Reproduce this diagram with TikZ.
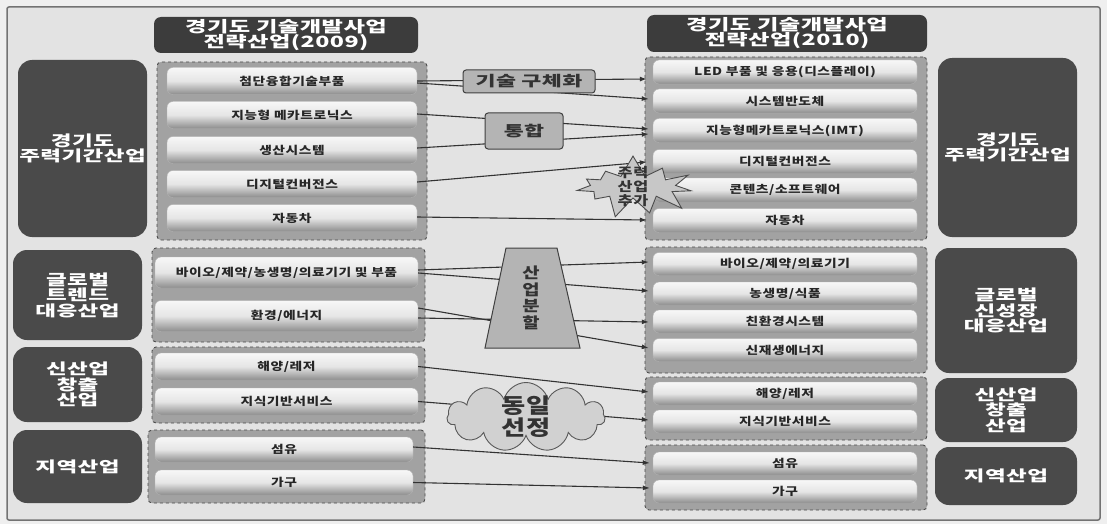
\documentclass[tikz,border=0pt]{standalone}
\usepackage{fontspec}
\setmainfont{Noto Sans CJK KR}[FakeStretch=1.25, LetterSpace=5]
\newfontfamily\wideKR{Noto Sans CJK KR}[FakeStretch=1.5, LetterSpace=3]
\usetikzlibrary{shapes.symbols, shapes.geometric, arrows.meta, calc}
\definecolor{pagebg}{HTML}{EFEFEF}
\definecolor{framebg}{HTML}{E3E3E3}
\definecolor{darkbox}{HTML}{4A4A4A}
\definecolor{titlebox}{HTML}{3C3C3C}
\definecolor{grpfill}{HTML}{A2A2A2}
\definecolor{midfill}{HTML}{B4B4B4}
\definecolor{linec}{HTML}{333333}
\newcommand{\fItem}{\fontsize{11}{12}\selectfont\bfseries}
\newcommand{\fCat}{\wideKR\fontsize{15}{15.5}\selectfont\bfseries}
\newcommand{\fTtl}{\wideKR\fontsize{15.5}{15}\selectfont\bfseries}
\newcommand{\fMid}{\wideKR\fontsize{14.5}{16}\selectfont\bfseries}
\newcommand{\fStar}{\fontsize{13}{14}\selectfont\bfseries}
\newcommand{\fVert}{\fontsize{15}{16.5}\selectfont\bfseries}
\newcommand{\fCloud}{\fontsize{21}{22}\selectfont\bfseries}
\tikzset{
  catbox/.style={rectangle, rounded corners=14pt, fill=darkbox, text=white, font=\fCat, align=center, inner sep=0pt},
  ttlbox/.style={rectangle, rounded corners=7pt, fill=titlebox, text=white, font=\fTtl, align=center, inner sep=0pt},
  grpbox/.style={rectangle, rounded corners=4pt, fill=grpfill, draw=black!70, dashed, line width=0.9pt, inner sep=0pt},
  itembox/.style={rectangle, rounded corners=6pt, top color=white!97!black, bottom color=black!45, middle color=black!10, draw=black!30, line width=0.4pt, inner sep=0pt, font=\fItem, text=black!85},
  midbox/.style={rectangle, rounded corners=3pt, fill=midfill, draw=black!75, line width=1pt, inner sep=0pt, font=\fMid, text=black!80},
  conn/.style={draw=linec, line width=1.1pt, -{Latex[length=7pt,width=5pt]}},
  plain/.style={inner sep=0pt, align=center, text=black!80}
}
\begin{document}
\begin{tikzpicture}[x=1pt,y=-1pt]
\useasboundingbox (0,0) rectangle (1107,524);
\fill[pagebg] (0,0) rectangle (1107,524);
\draw[draw=black!55, line width=1.5pt, fill=framebg, rounded corners=2pt] (7,7) rectangle (1100,520);

% titles
\node[ttlbox, minimum width=264pt, minimum height=36pt] (LT) at (286,35) {경기도 기술개발사업\\전략산업(2009)};
\node[ttlbox, minimum width=280pt, minimum height=37pt] (RT) at (787,33.5) {경기도 기술개발사업\\전략산업(2010)};

% left categories
\node[catbox, minimum width=129pt, minimum height=177pt] (LC1) at (82.5,148.5) {경기도\\주력기간산업};
\node[catbox, minimum width=129pt, minimum height=90pt] (LC2) at (77.5,295) {글로벌\\트렌드\\대응산업};
\node[catbox, minimum width=129pt, minimum height=75pt] (LC3) at (77.5,384.5) {신산업\\창출\\산업};
\node[catbox, minimum width=129pt, minimum height=73pt] (LC4) at (77.5,466.5) {지역산업};

% right categories
\node[catbox, minimum width=139pt, minimum height=179pt] (RC1) at (1007.5,147.5) {경기도\\주력기간산업};
\node[catbox, minimum width=142pt, minimum height=125pt] (RC2) at (1006,310.5) {글로벌\\신성장\\대응산업};
\node[catbox, minimum width=142pt, minimum height=64pt] (RC3) at (1006,410) {신산업\\창출\\산업};
\node[catbox, minimum width=142pt, minimum height=58pt] (RC4) at (1006,476) {지역산업};

% left groups
\node[grpbox, minimum width=270pt, minimum height=178pt] (LG1) at (292,151) {};
\node[grpbox, minimum width=273pt, minimum height=94pt] (LG2) at (288.5,295) {};
\node[grpbox, minimum width=273pt, minimum height=76pt] (LG3) at (288.5,385) {};
\node[grpbox, minimum width=277pt, minimum height=73pt] (LG4) at (286.5,466.5) {};

% right groups
\node[grpbox, minimum width=282pt, minimum height=183pt] (RG1) at (786,148.5) {};
\node[grpbox, minimum width=282pt, minimum height=126pt] (RG2) at (786,310) {};
\node[grpbox, minimum width=282pt, minimum height=63pt] (RG3) at (786,408.5) {};
\node[grpbox, minimum width=282pt, minimum height=65pt] (RG4) at (786,477.5) {};

% left items
\node[itembox, minimum width=250pt, minimum height=27pt] (L1) at (292,81) {첨단융합기술부품};
\node[itembox, minimum width=250pt, minimum height=27pt] (L2) at (292,115) {지능형 메카트로닉스};
\node[itembox, minimum width=250pt, minimum height=27pt] (L3) at (292,150) {생산시스템};
\node[itembox, minimum width=250pt, minimum height=27pt] (L4) at (292,184) {디지털컨버전스};
\node[itembox, minimum width=250pt, minimum height=27pt] (L5) at (292,218) {자동차};
\node[itembox, minimum width=263pt, minimum height=31pt] (L6) at (286.5,272.5) {바이오/제약/농생명/의료기기 및 부품};
\node[itembox, minimum width=263pt, minimum height=31pt] (L7) at (286.5,316) {환경/에너지};
\node[itembox, minimum width=263pt, minimum height=27pt] (L8) at (286.5,366.5) {해양/레저};
\node[itembox, minimum width=263pt, minimum height=27pt] (L9) at (286.5,401.5) {지식기반서비스};
\node[itembox, minimum width=258pt, minimum height=25pt] (L10) at (284,449.5) {섬유};
\node[itembox, minimum width=258pt, minimum height=25pt] (L11) at (284,482.5) {가구};

% right items
\node[itembox, minimum width=264pt, minimum height=24pt] (R1) at (785,72) {LED 부품 및 응용(디스플레이)};
\node[itembox, minimum width=264pt, minimum height=24pt] (R2) at (785,101) {시스템반도체};
\node[itembox, minimum width=264pt, minimum height=24pt] (R3) at (785,130.5) {지능형메카트로닉스(IMT)};
\node[itembox, minimum width=264pt, minimum height=24pt] (R4) at (785,161.5) {디지털컨버전스};
\node[itembox, minimum width=264pt, minimum height=24pt] (R5) at (785,190) {콘텐츠/소프트웨어};
\node[itembox, minimum width=264pt, minimum height=24pt] (R6) at (785,220.5) {자동차};
\node[itembox, minimum width=264pt, minimum height=23pt] (R7) at (785,264) {바이오/제약/의료기기};
\node[itembox, minimum width=264pt, minimum height=23pt] (R8) at (785,293.5) {농생명/식품};
\node[itembox, minimum width=264pt, minimum height=23pt] (R9) at (785,321.5) {친환경시스템};
\node[itembox, minimum width=264pt, minimum height=23pt] (R10) at (785,350) {신재생에너지};
\node[itembox, minimum width=264pt, minimum height=23pt] (R11) at (785,393.5) {해양/레저};
\node[itembox, minimum width=264pt, minimum height=23pt] (R12) at (785,421.5) {지식기반서비스};
\node[itembox, minimum width=264pt, minimum height=23pt] (R13) at (785,463.5) {섬유};
\node[itembox, minimum width=264pt, minimum height=23pt] (R14) at (785,491.5) {가구};

% connectors
\draw[conn] (L1.east) -- ([xshift=-6pt,yshift=-7pt]R1.west);
\draw[conn] ([yshift=-2pt]L1.east) -- ([xshift=-4pt,yshift=2pt]R2.west);
\draw[conn] ([yshift=1pt]L2.east) -- ([xshift=-4pt,yshift=1.5pt]R3.west);
\draw[conn] ([yshift=2pt]L3.east) -- ([xshift=-4pt,yshift=-3.5pt]R3.west);
\draw[conn] ([yshift=2pt]L4.east) -- ([xshift=-6pt,yshift=-0.5pt]R4.west);
\draw[conn] ([yshift=1pt]L5.east) -- ([xshift=-6pt,yshift=0.5pt]R6.west);
\draw[conn] ([yshift=2.5pt]L6.east) -- ([xshift=-4pt,yshift=2pt]R7.west);
\draw[conn] ([yshift=-0.5pt]L6.east) -- ([xshift=-4pt,yshift=2.5pt]R8.west);
\draw[conn] ([yshift=8pt]L7.east) -- ([xshift=-4pt,yshift=2pt]R10.west);
\draw[conn] ([yshift=-2pt]L7.east) -- ([xshift=-4pt,yshift=-0.5pt]R9.west);
\draw[conn] (L8.east) -- ([xshift=-4pt,yshift=1.5pt]R11.west);
\draw[conn] (L9.east) -- ([xshift=-4pt,yshift=1.5pt]R12.west);
\draw[conn] ([yshift=2.5pt]L10.east) -- ([xshift=-3pt,yshift=0.5pt]R13.west);
\draw[conn] (L11.east) -- ([xshift=-3pt,yshift=3.5pt]R14.west);

% middle shapes
\node[midbox, minimum width=132pt, minimum height=23pt] (MT) at (529,81.5) {기술 구체화};
\node[midbox, minimum width=78pt, minimum height=36pt] (MI) at (524,131) {통합};
\draw[fill=midfill, draw=black!75, line width=1pt] (506,248) -- (557,248) -- (580,348) -- (485,348) -- cycle;
\node[plain, font=\fVert] (MS) at (531,298) {산\\업\\분\\할};
\node[cloud, cloud puffs=11, aspect=2.3, minimum width=158pt, minimum height=69pt, inner sep=0pt, fill=black!18, draw=black!65, line width=0.9pt] (MC) at (526,417) {};
\node[plain, font=\fCloud] (MCt) at (526,417) {동일\\선정};
\node[starburst, starburst points=11, starburst point height=22pt, random starburst=7, minimum width=130pt, minimum height=66pt, inner sep=0pt, fill=black!22, draw=black!70, line width=0.9pt] (MB) at (633,187) {};
\node[plain, font=\fStar] (MBt) at (633,187) {주력\\산업\\추가};
\end{tikzpicture}
\end{document}
